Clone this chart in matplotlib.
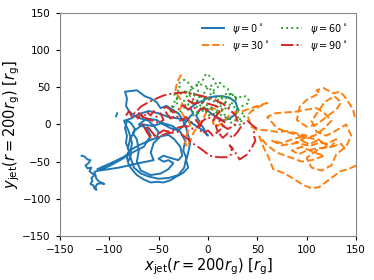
import matplotlib
matplotlib.use('Agg')
import matplotlib.pyplot as plt

nan = float('nan')

# jet position traces at r = 200 r_g
x_psi0 = [-128, -125, -122, -119, -121, -124, -122, -118, -120, -117, -115, -118, -117, -119, -116,
          -115, -113, -114, -112, -108, -105, -110, -113, -114, -115, -100, -85, -78, -70, -60, -52,
          -50, -55, -60, -68, -75, -80, -83, -82, -84, -78, -72, -68, -64, -58, -52, -48, -42, -36,
          -30, -25, -22, -20, -18, -20, -22, -20, -25, -32, -38, -45, -52, -58, -65, -72, -76, -80,
          -82, -80, -83, -82, -84, -82, -78, -74, -76, -72, -70, -72, -68, -58, -48, -40, -35, -40,
          -45, -50, -45, -38, -30, -26, -28, -34, -40, -48, -55, -58, -55, -70, -90, -110, -112, -95,
          -80, -65, -58, -62, -70, -62, -52, -45, -38, -30, -25, -20, -15, -18, -12, -5, 0, 8, 15,
          22, 28, 30, 28, 22, 14, 8, 2, -3, -8, -12, -8, -4, -2, 0, -5, -12, -20, -30, -40, -50,
          -60, -70, -78, -85, -80, -77, -79, -75, -68, -60, -50, -40, -30, -24, -22, -25, -23, -28,
          -36, -46, -56, -66, -74, -79, -81, -78, -80, nan, -93, -92]
y_psi0 = [-42, -43, -47, -48, -52, -55, -59, -58, -63, -66, -68, -72, -76, -80, -82,
          -86, -88, -84, -80, -79, -80, -77, -73, -68, -64, -56, -45, -34, -28, -22, -18,
          -10, -2, 5, 8, 12, 18, 25, 35, 44, 45, 46, 42, 38, 35, 30, 22, 25, 20,
          15, 5, -5, -15, -25, -38, -48, -58, -65, -70, -75, -78, -77, -78, -74, -68, -62, -55,
          -45, -35, -25, -15, -5, 5, 2, -6, -12, -20, -35, -50, -62, -68, -66, -60, -52, -48,
          -50, -46, -42, -45, -48, -42, -30, -20, -14, -16, -25, -38, -48, -52, -58, -62, -60, -50,
          -40, -30, -15, -5, 0, 8, 6, 0, -5, -8, -2, 8, 15, 22, 28, 32, 36, 38, 38,
          36, 30, 22, 14, 8, 5, 10, 16, 22, 20, 12, 2, -6, -12, -15, -8, -2, 5, 8, 10, 15,
          18, 14, 8, 5, -10, -25, -42, -58, -66, -70, -73, -72, -68, -58, -45, -35, -22, -10,
          -2, 2, -2, 0, -8, -20, -32, -40, -48, nan, 11, 15]

x_psi30 = [-27, -30, -32, -33, -30, -26, -28, -25, -20, -18, -20, -22, -23, -21, -18, -15, -10, -5,
           0, 5, 12, 8, 5, 8, 15, 20, 25, 32, 40, 48, 55, 60, 52, 44, 40, 42, 44, 49, 60, 70,
           80, 90, 100, 85, 75, 65, 75, 90, 100, 110, 120, 130, 125, 112, 100, 92, 85, 95, 108, 118,
           105, 95, 85, 70, 60, 52, 56, 61, 66, 76, 83, 96, 105, 113, 120, 127, 134, 144, 152, 160,
           160, 149, 147, 140, 134, 127, 117, 110, 113, 100, 93, 90, 100, 110, 120, 130, 135, 128, 118,
           112, 105, 110, 120, 130, 140, 145, 140, 130, 125, 115, 105, 100, 110, 120, 112, 100, 90,
           80, 70, 60, 68, 76, 88, 100, 110, 118, 125, 118, 108, 98, 88, 95, 105, 115, 125, 135, 140]
y_psi30 = [67, 60, 52, 45, 38, 30, 20, 12, 5, 0, -8, -16, -25, -30, -22, -12, -2, 8,
           20, 22, 18, 10, 2, -3, 2, 10, 16, 17, 20, 24, 27, 29, 24, 18, 12, 5, -3, -7, -8, -10,
           -9, -12, -15, -20, -25, -22, -28, -25, -28, -22, -26, -20, -30, -32, -35, -40, -35, -30, -38, -42,
           -48, -50, -45, -38, -28, -16, -30, -43, -60, -65, -70, -81, -86, -84, -77, -70, -63, -59, -54, -40,
           10, 8, 20, 35, 44, 42, 49, 46, 42, 33, 24, 6, -3, 0, 10, 20, 30, 38, 30,
           18, 5, -10, -15, -8, 0, -15, -30, -40, -55, -62, -58, -45, -35, -30, -20, -18, -14,
           -10, -5, 10, 15, 16, 17, 20, 22, 15, 5, -5, -15, -18, -25, -22, -28, -24, -30, -26, -35]

x_psi60 = [-40, -36, -30, -34, -28, -30, -24, -20, -15, -22, -18, -10, -12, -5, -2, 2, 5, 8, 0, -4,
           -8, -15, -10, -5, 0, 5, 10, 12, 15, 20, 22, 18, 12, 18, 25, 28, 30, 35, 38, 42, 40, 35,
           30, 28, 32, 35, 30, 25, 22, 18, 15, 10, 8, 0, -5, -12, -20, -25, -18, -10, -3, 5, 12, 20,
           25, 30, 22, 15, 8, -2, -12, -25, -32, -38, -30, -22, -15, -5, 5, 15, 25, 32, 38, 30, 20,
           10, 2, -6, -15, -22]
y_psi60 = [10, 22, 30, 40, 48, 55, 60, 56, 48, 44, 38, 45, 55, 60, 68, 65, 62, 55, 50, 42,
           35, 28, 22, 30, 35, 45, 50, 56, 52, 48, 40, 35, 38, 30, 40, 35, 38, 36, 38, 32, 28, 25,
           20, 12, 8, 2, -2, 0, 5, 10, 18, 20, 15, 12, 25, 15, 20, 30, 45, 55, 52, 45, 25, 20,
           30, 35, 42, 40, 30, 35, 38, 45, 35, 20, 15, 25, 32, 28, 22, 30, 25, 18, 12, 5, 8,
           15, 22, 18, 12, 5]

x_psi90 = [-83, -80, -77, -74, -71, -68, -65, -62, -58, -55, -52, -48, -45, -50, -58, -66, -72, -68,
           -60, -52, -45, -35, -25, -15, -5, 5, 15, 22, 28, 30, 26, 20, 15, 12, 8, 10, 14, 18, 12,
           5, 0, -5, -10, -15, -20, -25, -30, -35, -40, -45, -42, -38, -32, -28, -22, -18, -12, -8,
           -15, -22, -30, -38, -45, -52, -58, -62, -66, -60, -52, -42, -30, -20, -18, -8, 2, 10, 19,
           24, 24, 22, 26, 32, 39, 44, 48, 46, 49, 44, 40, 35, 30, 25, 20, 15, 10, 5, 0, -5, -10,
           -5, 0, 5, 10, 15, 8, 0, -8, -15, -20, -12]
y_psi90 = [12, 18, 10, 16, 8, 14, 9, 17, 12, 18, 10, 15, 6, 2, 6, 10, 18, 24,
           30, 35, 39, 42, 43, 41, 38, 34, 28, 20, 12, 4, -2, -6, -2, 5, -2, -10, -5, 2, 8,
           12, 18, 22, 18, 24, 20, 26, 20, 16, 22, 25, 15, 8, 12, 5, 10, 2, 6, -2,
           -6, -2, -4, -10, -8, -14, -18, -10, 0, -5, -18, -12, -10, -20, -23, -32, -42, -44, -44,
           -40, -32, -28, -34, -47, -41, -32, -22, -12, -5, 0, 5, 0, -10, -18, -12, -18, -10, -15, -8, -12, -5,
           5, 10, 5, 15, 20, 25, 28, 30, 28, 32, 35]

labels = [r'$\psi = 0^\circ$', r'$\psi = 30^\circ$', r'$\psi = 60^\circ$', r'$\psi = 90^\circ$']

fig = plt.figure(figsize=(3.74, 2.8), dpi=100)
ax = fig.add_axes([0.160, 0.157, 0.792, 0.797])

ax.plot(x_psi0, y_psi0, color='#1f77b4', ls='-', lw=1.4, label=labels[0])
ax.plot(x_psi30, y_psi30, color='#ff7f0e', ls='--', lw=1.4, label=labels[1])
ax.plot(x_psi60, y_psi60, color='#2ca02c', ls=':', lw=1.4, label=labels[2])
ax.plot(x_psi90, y_psi90, color='#d62728', ls='-.', lw=1.4, label=labels[3])

ax.set_xlim(-150, 150)
ax.set_ylim(-150, 150)
ax.set_xticks([-150, -100, -50, 0, 50, 100, 150])
ax.set_yticks([-150, -100, -50, 0, 50, 100, 150])
ax.tick_params(labelsize=7.5, length=3)
for s in ax.spines.values():
    s.set_color('#888888')

ax.set_xlabel(r'$x_{\rm jet}(r=200r_{\rm g})\ [r_{\rm g}]$', fontsize=10.5, labelpad=1)
ax.set_ylabel(r'$y_{\rm jet}(r=200r_{\rm g})\ [r_{\rm g}]$', fontsize=10.5, labelpad=0)

ax.legend(ncol=2, loc='upper right', frameon=False, fontsize=7,
          handlelength=2.2, columnspacing=1.2, labelspacing=0.3)

fig.savefig('out.png', dpi=100)
